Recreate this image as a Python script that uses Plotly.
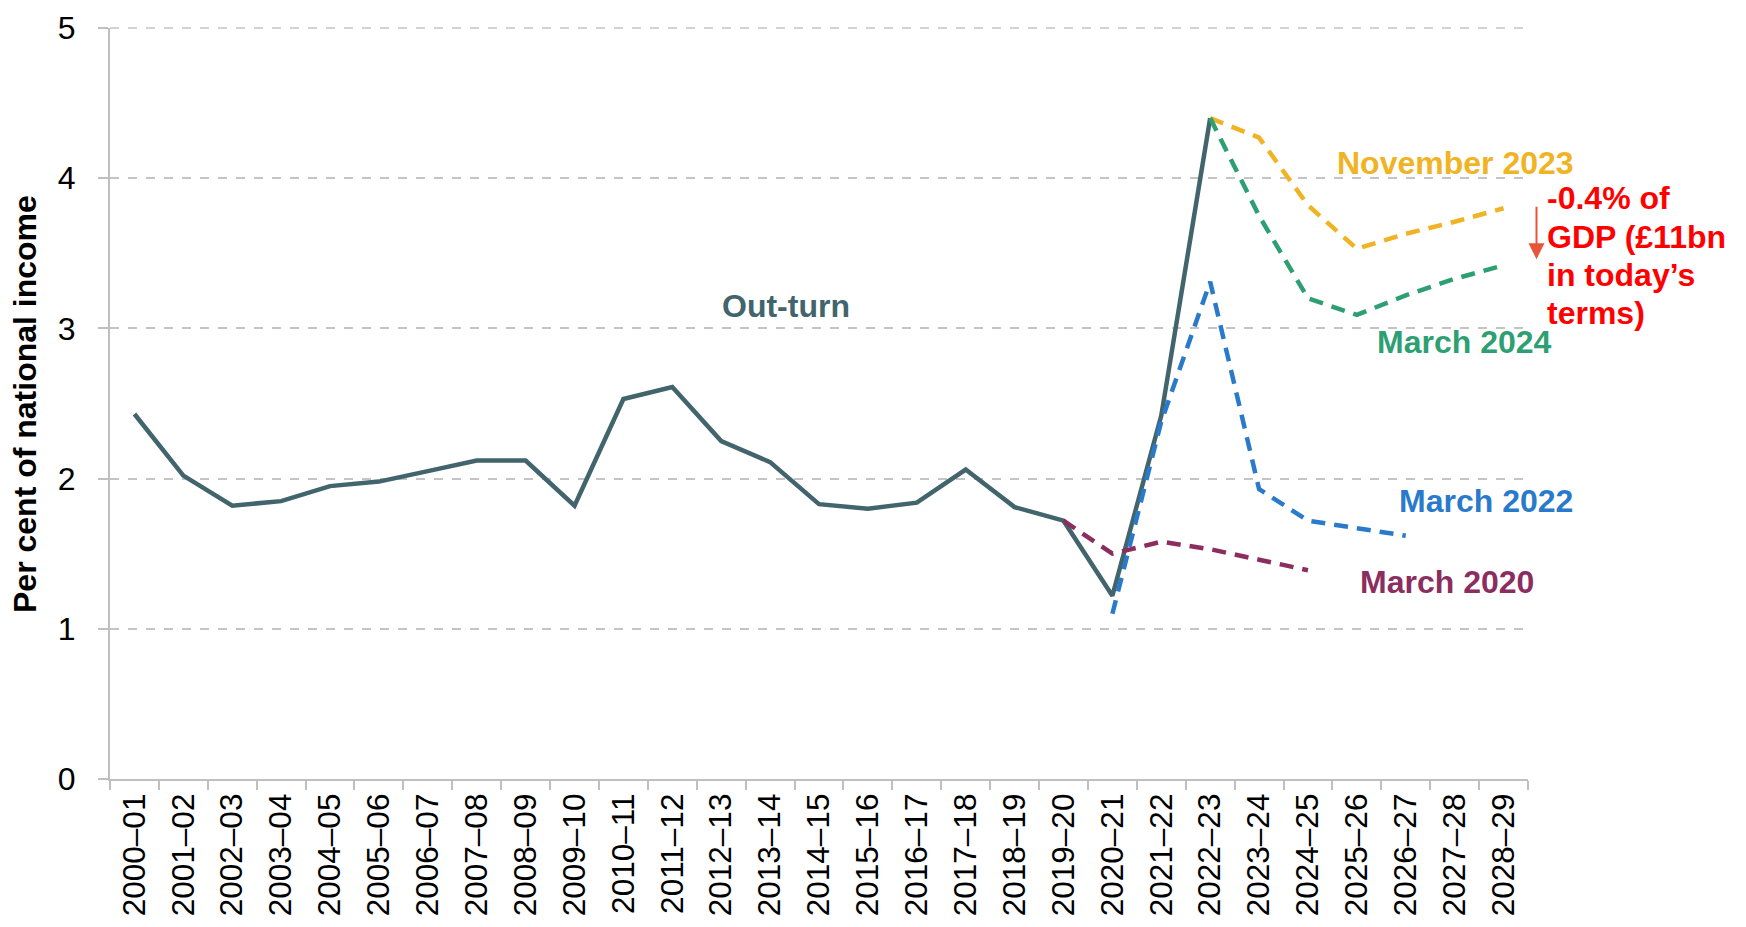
import plotly.graph_objects as go

categories = ["2000–01", "2001–02", "2002–03", "2003–04", "2004–05", "2005–06", "2006–07",
              "2007–08", "2008–09", "2009–10", "2010–11", "2011–12", "2012–13", "2013–14",
              "2014–15", "2015–16", "2016–17", "2017–18", "2018–19", "2019–20", "2020–21",
              "2021–22", "2022–23", "2023–24", "2024–25", "2025–26", "2026–27", "2027–28",
              "2028–29"]

outturn = [2.43, 2.02, 1.82, 1.85, 1.95, 1.98, 2.05, 2.12, 2.12, 1.82, 2.53, 2.61, 2.25,
           2.11, 1.83, 1.80, 1.84, 2.06, 1.81, 1.72, 1.22, 2.42, 4.40]

march2020_years = categories[19:25]
march2020 = [1.72, 1.50, 1.58, 1.53, 1.46, 1.39]

march2022_years = categories[20:27]
march2022 = [1.10, 2.38, 3.31, 1.93, 1.72, 1.67, 1.62]

nov2023_years = categories[22:29]
nov2023 = [4.40, 4.27, 3.82, 3.53, 3.63, 3.71, 3.80]

march2024_years = categories[22:29]
march2024 = [4.40, 3.75, 3.20, 3.09, 3.22, 3.33, 3.42]

note_lines = ["-0.4% of", "GDP (£11bn", "in today’s", "terms)"]

FONT = "Liberation Sans, Arial, sans-serif"
C_OUT = "#41646d"
C_NOV = "#f0b323"
C_M24 = "#2e9f73"
C_M22 = "#2a7acb"
C_M20 = "#8c2d5f"
DASH = "14px,9px"
GRID = "#c4c4c4"

fig = go.Figure()
fig.add_trace(go.Scatter(x=categories[:len(outturn)], y=outturn, mode="lines",
                         line=dict(color=C_OUT, width=4.5), name="Out-turn"))
fig.add_trace(go.Scatter(x=march2020_years, y=march2020, mode="lines",
                         line=dict(color=C_M20, width=4.5, dash=DASH), name="March 2020"))
fig.add_trace(go.Scatter(x=march2022_years, y=march2022, mode="lines",
                         line=dict(color=C_M22, width=4.5, dash=DASH), name="March 2022"))
fig.add_trace(go.Scatter(x=nov2023_years, y=nov2023, mode="lines",
                         line=dict(color=C_NOV, width=4.5, dash=DASH), name="November 2023"))
fig.add_trace(go.Scatter(x=march2024_years, y=march2024, mode="lines",
                         line=dict(color=C_M24, width=4.5, dash=DASH), name="March 2024"))

labels = [
    ("Out-turn", 13.32, 3.15, C_OUT),
    ("November 2023", 27.02, 4.10, C_NOV),
    ("March 2024", 27.21, 2.91, C_M24),
    ("March 2022", 27.64, 1.85, C_M22),
    ("March 2020", 26.84, 1.31, C_M20),
]
for text, x, y, c in labels:
    fig.add_annotation(x=x, y=y, xref="x", yref="y", text=f"<b>{text}</b>", showarrow=False,
                       font=dict(family=FONT, size=32, color=c), xanchor="center", yanchor="middle")

note_y = [3.865, 3.608, 3.354, 3.105]
for line, yy in zip(note_lines, note_y):
    fig.add_annotation(x=1.012, y=yy, xref="paper", yref="y", text=f"<b>{line}</b>",
                       showarrow=False, align="left", xanchor="left", yanchor="middle",
                       font=dict(family=FONT, size=32, color="#ff0000"))
fig.add_annotation(x=1.006, y=3.46, xref="paper", yref="y", ax=0, ay=-54,
                   showarrow=True, arrowhead=2, arrowsize=1.6, arrowwidth=2,
                   arrowcolor="#e8553d", text="")

fig.add_annotation(x=-0.0603, y=0.5, xref="paper", yref="paper", textangle=-90,
                   text="<b>Per cent of national income</b>", showarrow=False,
                   font=dict(family=FONT, size=32, color="#000000"),
                   xanchor="center", yanchor="middle")

# top gridline (value 5) sits on the plot edge, so draw it unclipped
fig.add_shape(type="line", xref="paper", yref="paper", x0=0, x1=1, y0=1, y1=1,
              line=dict(color=GRID, width=1.5, dash="dash"), layer="below")

fig.update_layout(
    width=1730, height=911,
    margin=dict(l=102, r=210, t=20, b=140, autoexpand=False),
    paper_bgcolor="white", plot_bgcolor="white",
    showlegend=False,
    font=dict(family=FONT, size=30, color="#000000"),
)
fig.update_xaxes(type="category", categoryorder="array", categoryarray=categories,
                 range=[-0.5, 28.5], tickangle=-90, tickson="boundaries", automargin=False,
                 ticks="outside", ticklen=9, tickcolor="#bfbfbf", tickwidth=2,
                 showline=True, linecolor="#bfbfbf", linewidth=2, showgrid=False,
                 ticklabeloverflow="allow",
                 tickfont=dict(family=FONT, size=31.5, color="#000000"))
fig.update_yaxes(range=[0, 5], tickvals=[0, 1, 2, 3, 4, 5], ticks="outside", ticklen=10,
                 tickcolor="#bfbfbf", automargin=False,
                 tickwidth=2, showline=True, linecolor="#bfbfbf", linewidth=2,
                 showgrid=True, gridcolor=GRID, griddash="dash", gridwidth=1.5,
                 zeroline=False, ticklabelstandoff=16, ticklabeloverflow="allow",
                 tickfont=dict(family=FONT, size=32, color="#000000"))

fig.write_html("out.html")
